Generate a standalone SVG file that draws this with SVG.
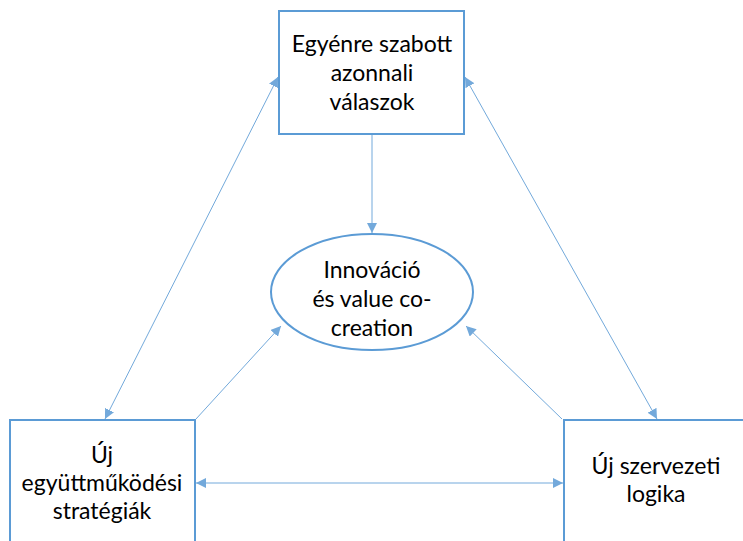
<svg xmlns="http://www.w3.org/2000/svg" width="743" height="541" viewBox="0 0 743 541">
<style>
.node{fill:#fff;stroke:#5b9bd5;stroke-width:2}
.lbl{font-family:Lato,"Open Sans","Liberation Sans",sans-serif;font-size:23px;fill:#000;text-anchor:middle}
.con{stroke:#5b9bd5;stroke-width:1;fill:none;opacity:0.85}
</style>
<defs>
<marker id="ah" viewBox="0 0 10 10" refX="10" refY="5" markerWidth="10" markerHeight="10" markerUnits="userSpaceOnUse" orient="auto-start-reverse">
<path d="M0,0 L10,5 L0,10 z" fill="#5b9bd5"/>
</marker>
</defs>
<rect width="743" height="541" fill="#fff"/>
<g id="connectors">
<line class="con" x1="372" y1="135" x2="372" y2="233" marker-end="url(#ah)"/>
<line class="con" x1="278" y1="77" x2="105" y2="419" marker-start="url(#ah)" marker-end="url(#ah)"/>
<line class="con" x1="465" y1="77" x2="657" y2="419" marker-start="url(#ah)" marker-end="url(#ah)"/>
<line class="con" x1="196" y1="419" x2="281" y2="326" marker-end="url(#ah)"/>
<line class="con" x1="562" y1="419" x2="466" y2="326" marker-end="url(#ah)"/>
<line class="con" x1="196" y1="483" x2="563" y2="483" marker-start="url(#ah)" marker-end="url(#ah)"/>
</g>
<g id="top">
<rect class="node" x="279" y="11" width="185" height="123"/>
<text class="lbl" x="372" y="52">Egyénre szabott</text>
<text class="lbl" x="372" y="81">azonnali</text>
<text class="lbl" x="372" y="110">válaszok</text>
</g>
<g id="center">
<ellipse class="node" cx="372" cy="292" rx="101" ry="58"/>
<text class="lbl" x="372" y="278">Innováció</text>
<text class="lbl" x="372" y="307">és value co-</text>
<text class="lbl" x="372" y="336">creation</text>
</g>
<g id="left">
<rect class="node" x="10" y="420" width="185" height="130"/>
<text class="lbl" x="102" y="463">Új</text>
<text class="lbl" x="102" y="491">együttműködési</text>
<text class="lbl" x="102" y="519">stratégiák</text>
</g>
<g id="right">
<rect class="node" x="564" y="420" width="190" height="130"/>
<text class="lbl" x="656" y="474">Új szervezeti</text>
<text class="lbl" x="656" y="502">logika</text>
</g>
</svg>
